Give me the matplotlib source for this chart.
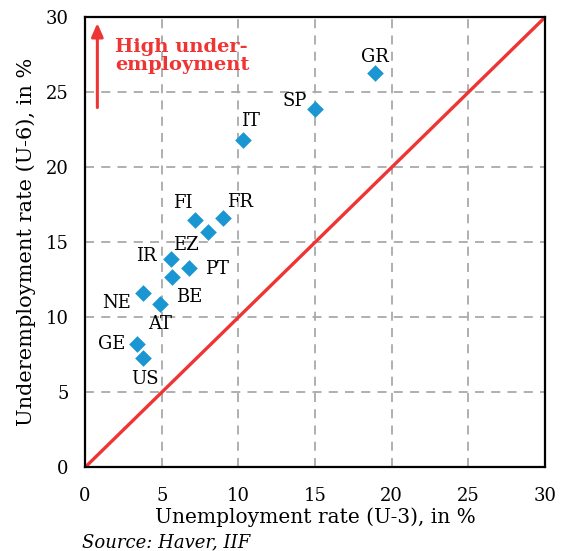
import numpy as np
import matplotlib.pyplot as plt
import matplotlib as mpl
from matplotlib.ticker import MultipleLocator

mpl.rcParams['font.family'] = 'DejaVu Serif'
fs = 13.

# Data.
countries = ['GR', 'SP', 'IT', 'FI', 'FR', 'EZ', 'IR', 'PT', 'BE', 'NE', 'AT', 'GE', 'US']
u3 = [18.9, 15.0, 10.3, 7.2, 9.0, 8.0, 5.6, 6.8, 5.7, 3.8, 4.9, 3.4, 3.8]
u6 = [26.3, 23.9, 21.8, 16.5, 16.6, 15.7, 13.9, 13.3, 12.7, 11.6, 10.9, 8.2, 7.3]
ticks = [0, 5, 10, 15, 20, 25, 30]

# label offsets in pixels (dx, dy) relative to each marker
offsets = {'GR': (0, 16), 'SP': (-20, 8), 'IT': (7, 19), 'FI': (-13, 17),
           'FR': (17, 16), 'EZ': (-22, -13), 'IR': (-25, 3), 'PT': (28, -1),
           'BE': (17, -20), 'NE': (-27, -10), 'AT': (0, -20), 'GE': (-26, 0),
           'US': (2, -21)}

blue = '#1a96d2'
red = '#ef3434'

fig = plt.figure(figsize=(5.68, 5.51), dpi=100)
ax = fig.add_axes([0.1498, 0.1519, 0.8097, 0.8167])

ax.set_xlim(0, 30)
ax.set_ylim(0, 30)
ax.xaxis.set_major_locator(MultipleLocator(5))
ax.yaxis.set_major_locator(MultipleLocator(5))
ax.grid(True, color='#a9a9a9', linestyle=(0, (5, 4)), linewidth=1.3)
ax.set_axisbelow(True)
ax.tick_params('both', length=0, labelsize=fs)
ax.tick_params(axis='x', pad=14)
ax.tick_params(axis='y', pad=12)
for sp in ax.spines.values():
    sp.set_linewidth(1.6)

ax.plot(ticks, ticks, color=red, lw=2.4, zorder=2)
ax.scatter(u3, u6, marker='D', s=72, color=blue, linewidths=0, zorder=3)

for c, x, y in zip(countries, u3, u6):
    dx, dy = offsets[c]
    ax.annotate(c, (x, y), xytext=(dx, dy), textcoords='offset pixels',
                ha='center', va='center', fontsize=fs)

ax.annotate('', xy=(0.8, 29.8), xytext=(0.8, 23.8),
            arrowprops=dict(arrowstyle='-|>,head_length=0.8,head_width=0.35',
                            color=red, lw=2.2))
ax.text(1.95, 27.45, 'High under-\nemployment', color=red, fontsize=14,
        fontweight='bold', ha='left', va='center', linespacing=1.0)

ax.set_xlabel('Unemployment rate (U-3), in %', fontsize=14.5, labelpad=2)
ax.set_ylabel('Underemployment rate (U-6), in %', fontsize=15, labelpad=7)
fig.text(0.144, 0.0, 'Source: Haver, IIF', fontsize=13, style='italic',
         va='bottom')

plt.savefig('out.png', dpi=100)
plt.close(fig)
